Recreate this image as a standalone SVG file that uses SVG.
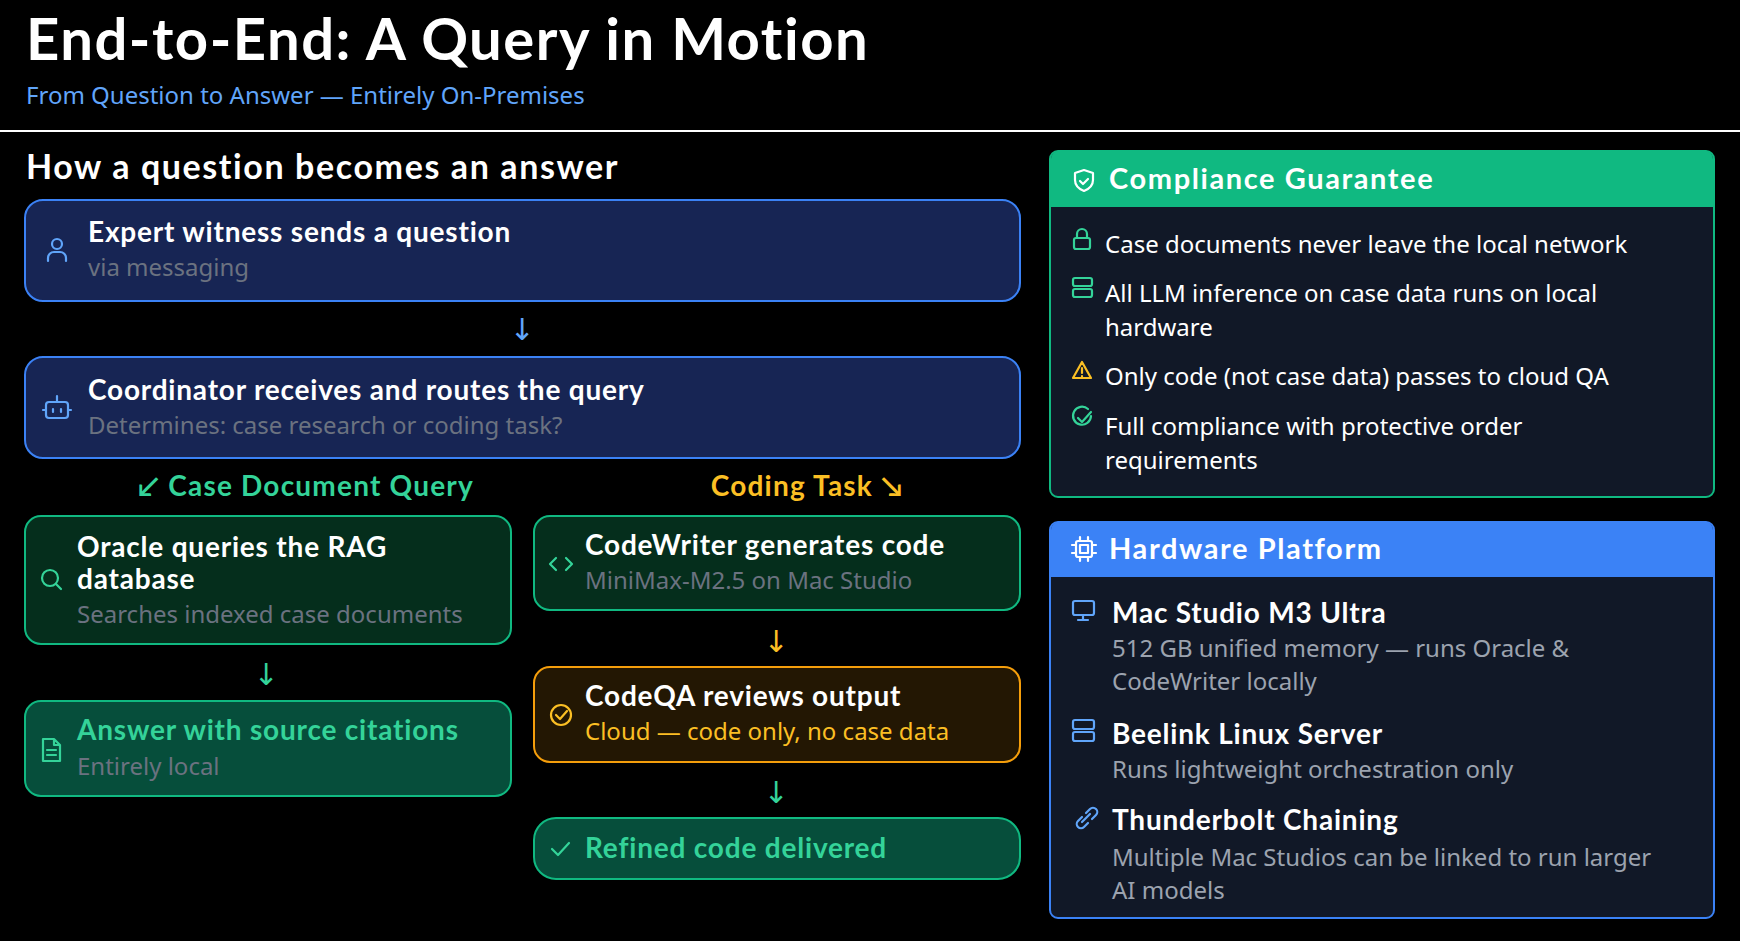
<svg xmlns="http://www.w3.org/2000/svg" width="1740" height="941" viewBox="0 0 1740 941">
<style>
.h{font-family:Lato,"Noto Sans",sans-serif;font-weight:700;fill:#fff;letter-spacing:0.8px}
.b{font-family:"Noto Sans","Open Sans",sans-serif;fill:#fff}
.g{font-family:"Noto Sans","Open Sans",sans-serif;fill:#6b7280;font-size:24px}
.g2{font-family:"Noto Sans","Open Sans",sans-serif;fill:#9ca3af;font-size:24px}
.t{font-size:28px}
.ph{font-size:29px;letter-spacing:1.6px}
.ic{fill:none;stroke-width:2.2;stroke-linecap:round;stroke-linejoin:round}
.arr{font-family:"DejaVu Sans",sans-serif;font-size:30px;text-anchor:middle}
</style>
<rect width="1740" height="941" fill="#000"/>
<g id="header">
<text x="26" y="60" class="h" font-size="58" style="letter-spacing:1.5px">End-to-End: A Query in Motion</text>
<text x="26" y="104" class="b" font-size="24" style="fill:#60a5fa">From Question to Answer — Entirely On-Premises</text>
<line x1="0" y1="131" x2="1740" y2="131" stroke="#fff" stroke-width="2"/>
<text x="26" y="179" class="h" font-size="34" style="letter-spacing:1.6px">How a question becomes an answer</text>
</g>
<g id="connectors">
<text x="522" y="340" class="arr" fill="#60a5fa">↓</text>
<text x="266" y="685" class="arr" fill="#34d399">↓</text>
<text x="776" y="652" class="arr" fill="#fbbf24">↓</text>
<text x="776" y="803" class="arr" fill="#34d399">↓</text>
</g>
<g id="n-expert">
<rect x="25" y="200" width="995" height="101" rx="18" fill="#172554" stroke="#3b82f6" stroke-width="2"/>
<g class="ic" stroke="#60a5fa"><circle cx="57" cy="244" r="5"/><path d="M48 261v-3a6 6 0 0 1 6-6h6a6 6 0 0 1 6 6v3"/></g>
<text x="88" y="242" class="h t">Expert witness sends a question</text>
<text x="88" y="276" class="g">via messaging</text>
</g>
<g id="n-coord">
<rect x="25" y="357" width="995" height="101" rx="18" fill="#172554" stroke="#3b82f6" stroke-width="2"/>
<g class="ic" stroke="#60a5fa"><rect x="46" y="402" width="22" height="16" rx="3"/><path d="M57 402v-6M53 409v3M61 409v3M43 410h3M68 410h3"/></g>
<text x="88" y="400" class="h t">Coordinator receives and routes the query</text>
<text x="88" y="434" class="g">Determines: case research or coding task?</text>
</g>
<g id="labels">
<text x="306" y="496" class="h" font-size="28" text-anchor="middle" style="fill:#34d399;letter-spacing:1.2px">↙ Case Document Query</text>
<text x="807" y="496" class="h" font-size="28" text-anchor="middle" style="fill:#fbbf24;letter-spacing:1.2px">Coding Task ↘</text>
</g>
<g id="n-oracle">
<rect x="25" y="516" width="486" height="128" rx="16" fill="#052e1c" stroke="#10b981" stroke-width="2"/>
<g class="ic" stroke="#34d399"><circle cx="50" cy="578" r="8"/><path d="M56 584l5 5"/></g>
<text x="77" y="557" class="h t">Oracle queries the RAG</text>
<text x="77" y="589" class="h t">database</text>
<text x="77" y="623" class="g">Searches indexed case documents</text>
</g>
<g id="n-answer">
<rect x="25" y="701" width="486" height="95" rx="16" fill="#064e3b" stroke="#10b981" stroke-width="2"/>
<g class="ic" stroke="#34d399"><path d="M43 739h11l6 6v16H43z M54 739v6h6 M47 750h9 M47 755h9"/></g>
<text x="77" y="740" class="h t" style="fill:#34d399">Answer with source citations</text>
<text x="77" y="775" class="g">Entirely local</text>
</g>
<g id="n-codewriter">
<rect x="534" y="516" width="486" height="94" rx="16" fill="#052e1c" stroke="#10b981" stroke-width="2"/>
<g class="ic" stroke="#34d399"><path d="M556 558l-6 6 6 6M566 558l6 6-6 6"/></g>
<text x="585" y="555" class="h t">CodeWriter generates code</text>
<text x="585" y="589" class="g">MiniMax-M2.5 on Mac Studio</text>
</g>
<g id="n-codeqa">
<rect x="534" y="667" width="486" height="95" rx="16" fill="#231703" stroke="#f59e0b" stroke-width="2"/>
<g class="ic" stroke="#fbbf24"><circle cx="561" cy="715" r="10"/><path d="M556 715l4 4 7-8"/></g>
<text x="585" y="706" class="h t">CodeQA reviews output</text>
<text x="585" y="740" class="g" style="fill:#fbbf24">Cloud — code only, no case data</text>
</g>
<g id="n-refined">
<rect x="534" y="818" width="486" height="61" rx="22" fill="#064e3b" stroke="#10b981" stroke-width="2"/>
<path class="ic" stroke="#34d399" d="M552 849l6 6 11-12"/>
<text x="585" y="858" class="h t" style="fill:#34d399">Refined code delivered</text>
</g>
<g id="n-compliance">
<rect x="1050" y="151" width="664" height="346" rx="8" fill="#111827" stroke="#10b981" stroke-width="2"/>
<path d="M1051 159a8 8 0 0 1 8-8h646a8 8 0 0 1 8 8v48H1051z" fill="#10b981"/>
<g class="ic" stroke="#fff"><path d="M1084 170l9 3v7c0 6-4 9-9 11-5-2-9-5-9-11v-7z"/><path d="M1080 181l3 3 5-5"/></g>
<text x="1109" y="189" class="h ph">Compliance Guarantee</text>
<g class="ic" stroke="#34d399"><rect x="1074" y="238" width="16" height="11" rx="2"/><path d="M1077 238v-4a5 5 0 0 1 10 0v4"/></g>
<text x="1105" y="253" class="b" font-size="24">Case documents never leave the local network</text>
<g class="ic" stroke="#34d399"><rect x="1073" y="278" width="19" height="8" rx="2"/><rect x="1073" y="289" width="19" height="8" rx="2"/></g>
<text x="1105" y="302" class="b" font-size="24">All LLM inference on case data runs on local</text>
<text x="1105" y="336" class="b" font-size="24">hardware</text>
<g class="ic" stroke="#fbbf24"><path d="M1082 362l9 16h-18z M1082 368v5 M1082 376v.5"/></g>
<text x="1105" y="385" class="b" font-size="24">Only code (not case data) passes to cloud QA</text>
<g class="ic" stroke="#34d399"><path d="M1091 416a9 9 0 1 1-3-7"/><path d="M1078 418l4 4 9-10"/></g>
<text x="1105" y="435" class="b" font-size="24">Full compliance with protective order</text>
<text x="1105" y="469" class="b" font-size="24">requirements</text>
</g>
<g id="n-hardware">
<rect x="1050" y="522" width="664" height="396" rx="8" fill="#111827" stroke="#3b82f6" stroke-width="2"/>
<path d="M1051 530a8 8 0 0 1 8-8h646a8 8 0 0 1 8 8v47H1051z" fill="#3b82f6"/>
<g class="ic" stroke="#fff" stroke-width="2"><rect x="1076" y="541" width="16" height="16" rx="2"/><rect x="1080" y="545" width="8" height="8"/><path d="M1080 537v4M1088 537v4M1080 557v4M1088 557v4M1072 545h4M1072 553h4M1092 545h4M1092 553h4"/></g>
<text x="1109" y="559" class="h ph">Hardware Platform</text>
<g class="ic" stroke="#60a5fa"><rect x="1073" y="601" width="21" height="14" rx="2"/><path d="M1083 615v5M1078 620h10"/></g>
<text x="1112" y="623" class="h" font-size="28">Mac Studio M3 Ultra</text>
<text x="1112" y="657" class="g2">512 GB unified memory — runs Oracle &amp;</text>
<text x="1112" y="690" class="g2">CodeWriter locally</text>
<g class="ic" stroke="#60a5fa"><rect x="1073" y="720" width="21" height="9" rx="2"/><rect x="1073" y="732" width="21" height="9" rx="2"/></g>
<text x="1112" y="744" class="h" font-size="28">Beelink Linux Server</text>
<text x="1112" y="778" class="g2">Runs lightweight orchestration only</text>
<g class="ic" stroke="#60a5fa"><path d="M1082 817l-4 4a4 4 0 0 0 6 6l4-4M1086 813l4-4a4 4 0 0 1 6 6l-4 4M1082 822l8-8"/></g>
<text x="1112" y="830" class="h" font-size="28">Thunderbolt Chaining</text>
<text x="1112" y="866" class="g2">Multiple Mac Studios can be linked to run larger</text>
<text x="1112" y="899" class="g2">AI models</text>
</g>
</svg>
